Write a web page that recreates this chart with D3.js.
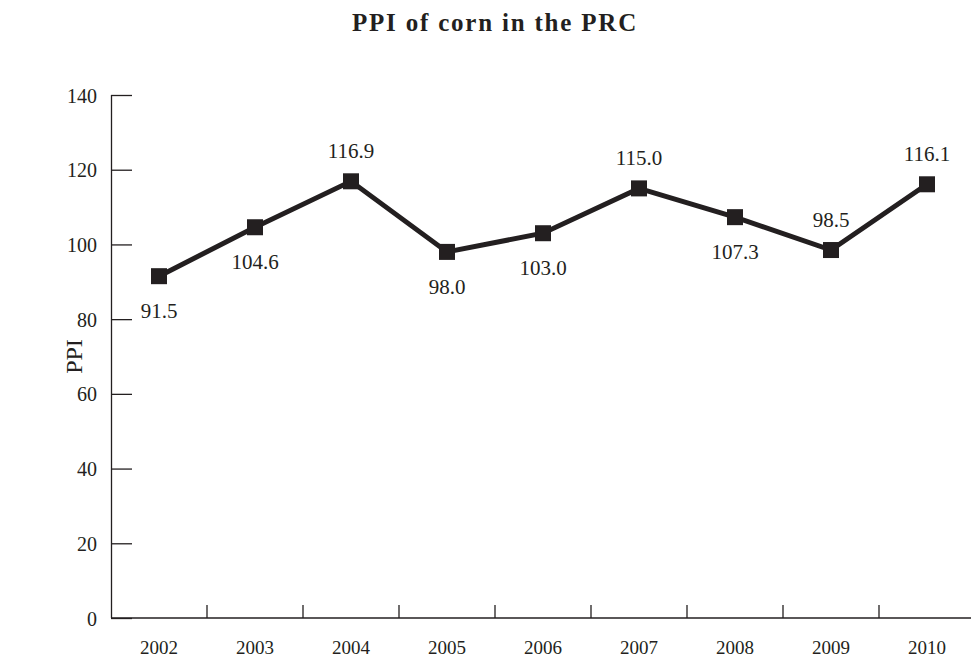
<!DOCTYPE html>
<html>
<head>
    <meta charset="utf-8" />
    <script src="https://d3js.org/d3.v7.min.js"></script>
    <title>PPI of corn in the PRC</title>
    <style>
        body { margin: 0; background: #fff; }
        svg text { font-family: "Liberation Serif", "Times New Roman", serif; fill: #231f20; }
    </style>
</head>
<body>
    <svg id="chart" width="971" height="660"></svg>

<script>
    // Data
    const years = ["2002", "2003", "2004", "2005", "2006", "2007", "2008", "2009", "2010"];
    const ppi = [91.5, 104.6, 116.9, 98.0, 103.0, 115.0, 107.3, 98.5, 116.1];
    const yTicks = [0, 20, 40, 60, 80, 100, 120, 140];
    // years whose value label sits above the marker
    const labelAbove = ["2004", "2007", "2009", "2010"];

    const width = 971;
    const height = 660;
    const margin = { top: 95, right: -4, bottom: 42, left: 111 };
    const ink = "#231f20";

    const svg = d3.select("#chart");

    // Scales
    const xScale = d3.scaleBand()
        .domain(years)
        .range([margin.left, width - margin.right]);

    const yScale = d3.scaleLinear()
        .domain([0, 140])
        .range([height - margin.bottom, margin.top]);

    // Title
    svg.append("text")
        .attr("x", 495)
        .attr("y", 31)
        .attr("text-anchor", "middle")
        .style("font-size", "25px")
        .style("font-weight", "bold")
        .style("letter-spacing", "1.8px")
        .text("PPI of corn in the PRC");

    // Y axis (ticks point inwards)
    const yAxis = d3.axisRight(yScale)
        .tickValues(yTicks)
        .tickSize(21)
        .tickPadding(0)
        .tickFormat(d3.format("d"));

    const gy = svg.append("g")
        .attr("transform", `translate(${margin.left}, 0)`)
        .call(yAxis);
    gy.select(".domain").attr("stroke", ink).attr("stroke-width", 1.3)
        .attr("d", `M0.5,${yScale(140)}V${yScale(0)}`);
    gy.selectAll(".tick line").attr("stroke", ink).attr("stroke-width", 1.3);
    gy.selectAll(".tick text")
        .attr("x", -14)
        .attr("dy", "0.35em")
        .attr("text-anchor", "end")
        .style("font-size", "20px");

    // X axis (ticks at band boundaries, pointing up)
    const gx = svg.append("g")
        .attr("transform", `translate(0, ${yScale(0)})`);
    gx.append("line")
        .attr("x1", margin.left)
        .attr("x2", width)
        .attr("stroke", ink)
        .attr("stroke-width", 1.3);
    gx.selectAll(".xtick")
        .data(years.slice(1))
        .enter().append("line")
        .attr("class", "xtick")
        .attr("x1", d => xScale(d))
        .attr("x2", d => xScale(d))
        .attr("y1", 0)
        .attr("y2", -13)
        .attr("stroke", ink)
        .attr("stroke-width", 1.3);
    gx.selectAll(".xlabel")
        .data(years)
        .enter().append("text")
        .attr("class", "xlabel")
        .attr("x", d => xScale(d) + xScale.bandwidth() / 2)
        .attr("y", 36)
        .attr("text-anchor", "middle")
        .style("font-size", "19px")
        .text(d => d);

    // Y axis title
    svg.append("text")
        .attr("transform", `translate(82, ${(yScale(0) + yScale(140)) / 2}) rotate(-90)`)
        .attr("text-anchor", "middle")
        .style("font-size", "24px")
        .text("PPI");

    // Line
    const points = years.map((y, i) => [y, ppi[i]]);
    const line = d3.line()
        .x(d => xScale(d[0]) + xScale.bandwidth() / 2)
        .y(d => yScale(d[1]));

    svg.append("path")
        .datum(points)
        .attr("fill", "none")
        .attr("stroke", ink)
        .attr("stroke-width", 5)
        .attr("stroke-linejoin", "miter")
        .attr("d", line);

    // Square markers
    const size = 16;
    svg.selectAll(".marker")
        .data(points)
        .enter().append("rect")
        .attr("class", "marker")
        .attr("x", d => xScale(d[0]) + xScale.bandwidth() / 2 - size / 2)
        .attr("y", d => yScale(d[1]) - size / 2)
        .attr("width", size)
        .attr("height", size)
        .attr("fill", ink);

    // Value labels
    svg.selectAll(".value")
        .data(points)
        .enter().append("text")
        .attr("class", "value")
        .attr("x", d => xScale(d[0]) + xScale.bandwidth() / 2)
        .attr("y", d => yScale(d[1]) + (labelAbove.includes(d[0]) ? -23 : 42))
        .attr("text-anchor", "middle")
        .style("font-size", "21px")
        .text(d => d[1].toFixed(1));
</script>
</body>
</html>
